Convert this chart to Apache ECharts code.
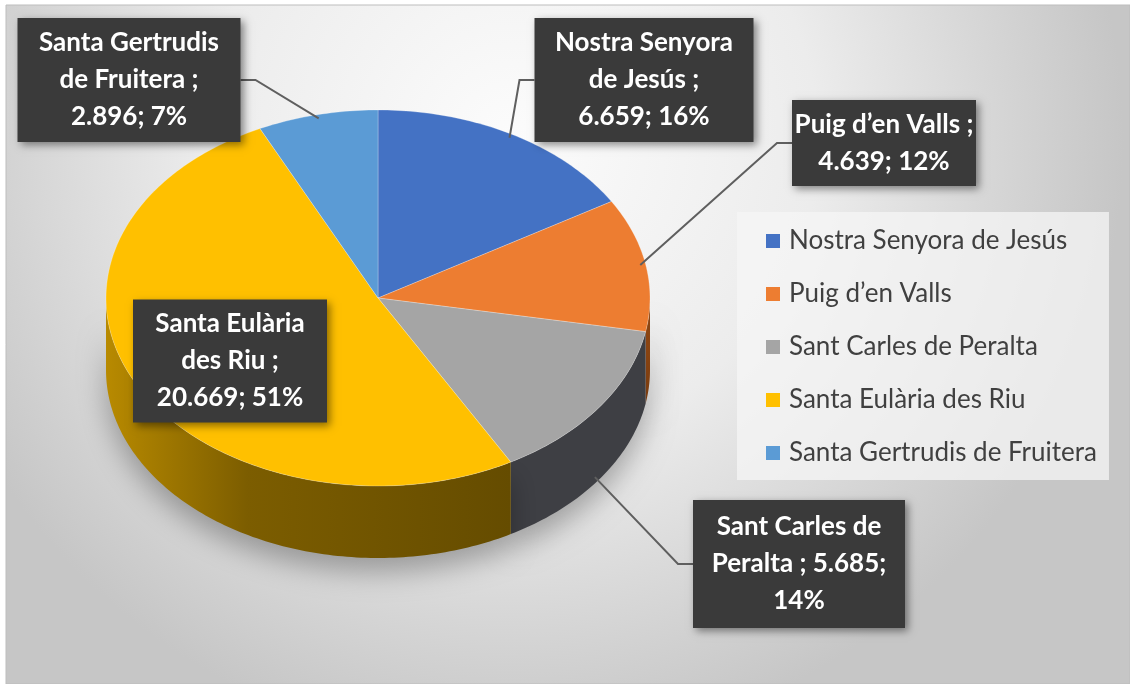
<!DOCTYPE html>
<html>
<head>
<meta charset="utf-8">
<script src="https://cdn.jsdelivr.net/npm/echarts@6/dist/echarts.min.js"></script>
<style>
html, body { margin: 0; padding: 0; background: #fff; }
#main { width: 1130px; height: 684px; }
</style>
</head>
<body>
<div id="main"></div>
<script>
var categories = ['Nostra Senyora de Jesús', 'Puig d’en Valls', 'Sant Carles de Peralta', 'Santa Eulària des Riu', 'Santa Gertrudis de Fruitera'];
var values = [6659, 4639, 5685, 20669, 2896];
var percents = [16, 12, 14, 51, 7];

var colors = ['#4472c4', '#ed7d31', '#a5a5a5', '#ffc000', '#5b9bd5'];
var sideColors = ['#2a4a86', '#8c4512', '#3e3f44', '#7a5c00', '#3a6a98'];

// label boxes (centre, size) and how many words go on each line
var labelBoxes = [
	{ x: 644, y: 80, w: 219, h: 124, lines: [2, 3, 2] },
	{ x: 884, y: 143, w: 184, h: 86, lines: [4, 2] },
	{ x: 799, y: 564, w: 212, h: 128, lines: [3, 3, 1] },
	{ x: 230, y: 361, w: 194, h: 123, lines: [2, 3, 2], noLine: true },
	{ x: 129, y: 80, w: 223, h: 124, lines: [2, 3, 2] }
];

// pie geometry
var cx = 378, cy = 298, rx = 272, ry = 188, depth = 72;

var total = values.reduce(function(s, v) { return s + v; }, 0);
var startAngles = [];
var acc = 0;
values.forEach(function(v) { startAngles.push(acc / total * 360); acc += v; });

function fmt(v) {
	return String(v).replace(/\B(?=(\d{3})+(?!\d))/g, '.');
}

function wrapWords(text, counts) {
	var words = text.split(' ');
	var out = [], k = 0;
	counts.forEach(function(c) {
		out.push(words.slice(k, k + c).join(' '));
		k += c;
	});
	return out.join('\n');
}

function pt(deg, k, dy) {
	var r = deg * Math.PI / 180;
	return [cx + rx * k * Math.sin(r), cy - ry * k * Math.cos(r) + (dy || 0)];
}

function arc(a0, a1, dy) {
	var pts = [];
	var n = Math.max(2, Math.ceil(Math.abs(a1 - a0)));
	for (var j = 0; j <= n; j++) {
		pts.push(pt(a0 + (a1 - a0) * j / n, 1, dy));
	}
	return pts;
}

function renderItem(params, api) {
	var i = params.dataIndex;
	var v = api.value(0);
	var a0 = startAngles[i];
	var a1 = a0 + v / total * 360;
	var children = [];

	// side wall (front half only)
	var s = Math.max(a0, 90), e = Math.min(a1, 270);
	if (e > s) {
		var side = arc(s, e, 0).concat(arc(e, s, depth));
		var fill = sideColors[i];
		if (i === 3) {
			fill = new echarts.graphic.LinearGradient(0, 0, 1, 0, [
				{ offset: 0, color: '#b88a00' },
				{ offset: 0.35, color: '#7c5d00' },
				{ offset: 1, color: '#654c00' }
			]);
		}
		children.push({
			type: 'polygon',
			z2: 0,
			shape: { points: side },
			style: {
				fill: fill,
				shadowBlur: 28,
				shadowOffsetY: 14,
				shadowColor: 'rgba(0,0,0,0.30)'
			}
		});
	}

	// top face
	children.push({
		type: 'polygon',
		z2: 1,
		shape: { points: [[cx, cy]].concat(arc(a0, a1, 0)) },
		style: { fill: colors[i], stroke: 'rgba(255,255,255,0.25)', lineWidth: 1 }
	});

	// data label
	var box = labelBoxes[i];
	var mid = (a0 + a1) / 2;
	if (!box.noLine) {
		var lower = Math.cos(mid * Math.PI / 180) < 0;
		var anchor = pt(mid, 0.98, lower ? depth : 0);
		var toRight = anchor[0] > box.x;
		var edgeX = toRight ? box.x + box.w / 2 : box.x - box.w / 2;
		var elbowX = toRight ? edgeX + 15 : edgeX - 15;
		children.push({
			type: 'polyline',
			z2: 5,
			shape: { points: [anchor, [elbowX, box.y], [edgeX, box.y]] },
			style: { stroke: '#5f5f5f', lineWidth: 2, fill: null }
		});
	}
	children.push({
		type: 'rect',
		z2: 6,
		shape: { x: box.x - box.w / 2, y: box.y - box.h / 2, width: box.w, height: box.h },
		style: {
			fill: '#3a3a3a',
			shadowBlur: 8,
			shadowOffsetX: 3,
			shadowOffsetY: 3,
			shadowColor: 'rgba(0,0,0,0.45)'
		}
	});
	var label = categories[i] + ' ; ' + fmt(v) + '; ' + percents[i] + '%';
	children.push({
		type: 'text',
		z2: 7,
		style: {
			x: box.x,
			y: box.y,
			text: wrapWords(label, box.lines),
			align: 'center',
			verticalAlign: 'middle',
			lineHeight: 37,
			fill: '#ffffff',
			font: 'bold 26px Lato'
		}
	});

	return { type: 'group', children: children };
}

var myChart = echarts.init(document.getElementById('main'));
var option = {
	color: colors,
	animation: false,
	graphic: [{
		type: 'rect',
		z: -10,
		shape: { x: 6, y: 5, width: 1124, height: 679 },
		style: {
			fill: new echarts.graphic.RadialGradient(0.45, 0.2, 0.9, [
				{ offset: 0, color: '#fcfcfc' },
				{ offset: 0.5, color: '#ececec' },
				{ offset: 1, color: '#c6c6c6' }
			]),
			stroke: '#bdbdbd',
			lineWidth: 1
		}
	}],
	legend: {
		orient: 'vertical',
		left: 737,
		top: 212,
		padding: [16, 12, 14, 29],
		itemGap: 27,
		itemWidth: 14,
		itemHeight: 14,
		icon: 'rect',
		backgroundColor: 'rgba(246,246,246,0.75)',
		textStyle: { fontFamily: 'Lato', fontSize: 26, lineHeight: 26, color: '#404040', padding: [0, 0, 0, 4] },
		data: categories
	},
	series: [{
		// the drawn 3D pie
		type: 'custom',
		coordinateSystem: 'none',
		renderItem: renderItem,
		silent: true,
		data: values.map(function(v, i) { return { name: categories[i], value: v }; })
	}, {
		// invisible pie: feeds the legend
		type: 'pie',
		radius: [0, 0],
		center: [cx, cy],
		silent: true,
		label: { show: false },
		labelLine: { show: false },
		data: values.map(function(v, i) { return { name: categories[i], value: v }; })
	}]
};
myChart.setOption(option);
</script>
</body>
</html>
